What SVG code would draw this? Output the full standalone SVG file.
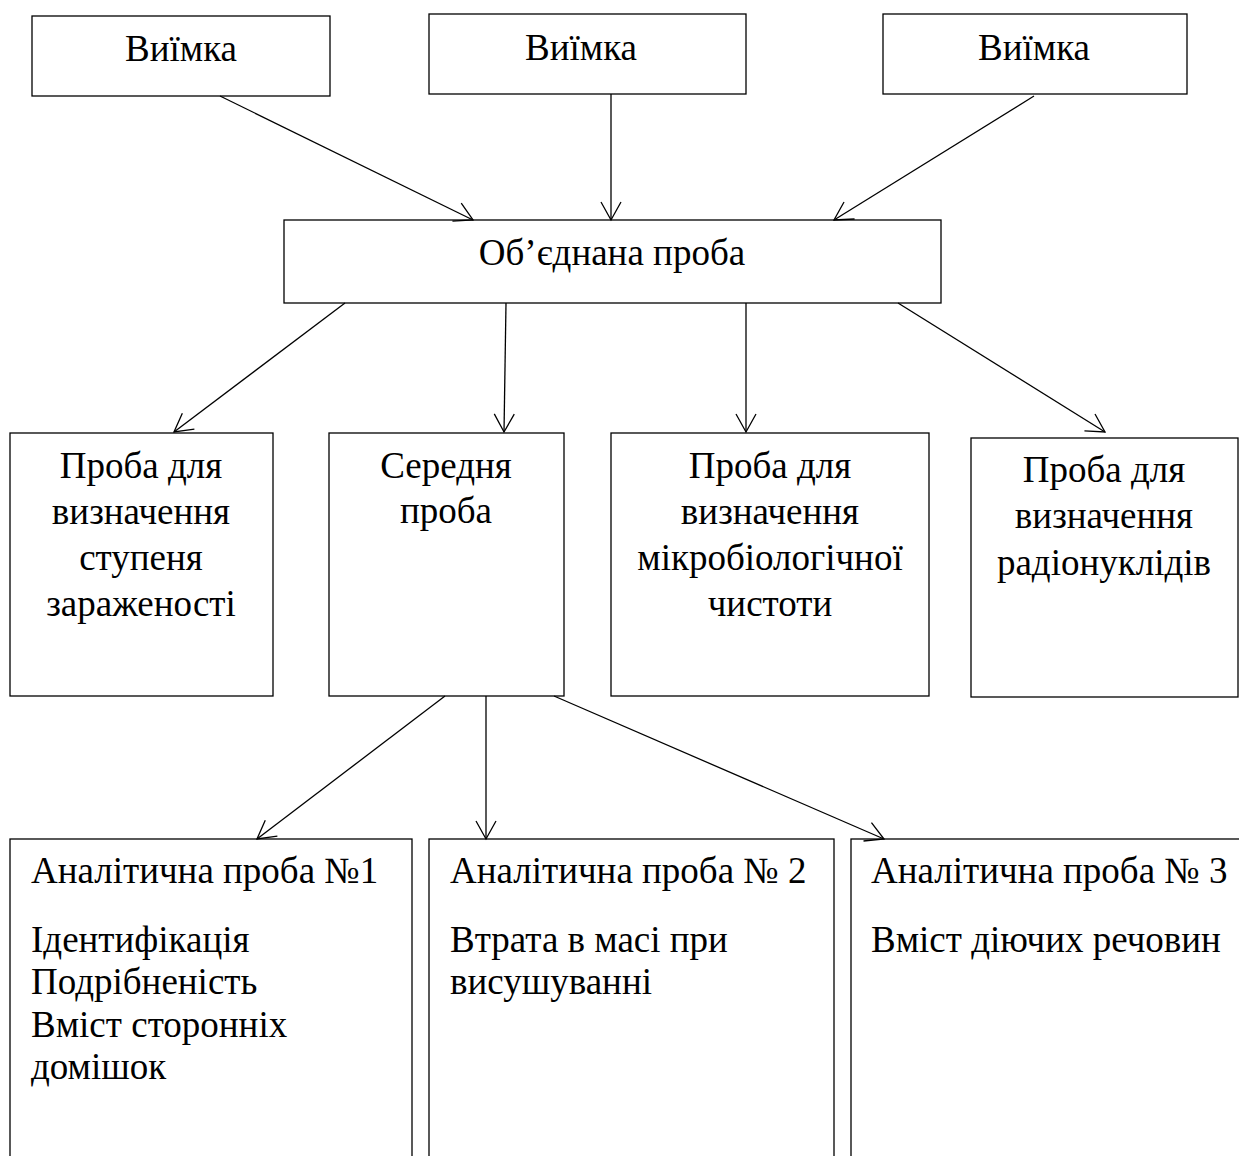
<svg xmlns="http://www.w3.org/2000/svg" width="1239" height="1156" viewBox="0 0 1239 1156">
<style>
.box{fill:#fff;stroke:#000;stroke-width:1.3}
.t{font-family:"Liberation Serif","Times New Roman",serif;font-size:37px;fill:#000}
.c{text-anchor:middle}
.conn line{stroke:#000;stroke-width:1.3;marker-end:url(#ah)}
</style>
<defs>
<marker id="ah" markerUnits="userSpaceOnUse" markerWidth="24" markerHeight="24" viewBox="-20 -12 22 24" refX="0" refY="0" orient="auto">
<path d="M-18,-10 L0,0 L-18,10" fill="none" stroke="#000" stroke-width="1.3"/>
</marker>
</defs>
<rect width="1239" height="1156" fill="#fff"/>
<g id="n-viimka1"><rect class="box" x="32" y="16" width="298" height="80"/><text class="t c" x="181" y="61">Виїмка</text></g>
<g id="n-viimka2"><rect class="box" x="429" y="14" width="317" height="80"/><text class="t c" x="581" y="60">Виїмка</text></g>
<g id="n-viimka3"><rect class="box" x="883" y="14" width="304" height="80"/><text class="t c" x="1034" y="60">Виїмка</text></g>
<g id="n-obiednana"><rect class="box" x="284" y="220" width="657" height="83"/><text class="t c" x="612" y="265">Об’єднана проба</text></g>
<g id="n-zarazh"><rect class="box" x="10" y="433" width="263" height="263"/>
<text class="t c" x="141" y="478">Проба для</text><text class="t c" x="141" y="524">визначення</text><text class="t c" x="141" y="570">ступеня</text><text class="t c" x="141" y="616">зараженості</text></g>
<g id="n-serednia"><rect class="box" x="329" y="433" width="235" height="263"/>
<text class="t c" x="446" y="478">Середня</text><text class="t c" x="446" y="523">проба</text></g>
<g id="n-mikrob"><rect class="box" x="611" y="433" width="318" height="263"/>
<text class="t c" x="770" y="478">Проба для</text><text class="t c" x="770" y="524">визначення</text><text class="t c" x="770" y="570">мікробіологічної</text><text class="t c" x="770" y="616">чистоти</text></g>
<g id="n-radio"><rect class="box" x="971" y="438" width="267" height="259"/>
<text class="t c" x="1104" y="482">Проба для</text><text class="t c" x="1104" y="528">визначення</text><text class="t c" x="1104" y="575">радіонуклідів</text></g>
<g id="n-an1"><rect class="box" x="10" y="839" width="402" height="340"/>
<text class="t" x="31" y="883">Аналітична проба №1</text>
<text class="t" x="31" y="952">Ідентифікація</text><text class="t" x="31" y="994">Подрібненість</text><text class="t" x="31" y="1037">Вміст сторонніх</text><text class="t" x="31" y="1079">домішок</text></g>
<g id="n-an2"><rect class="box" x="429" y="839" width="405" height="340"/>
<text class="t" x="450" y="883">Аналітична проба № 2</text>
<text class="t" x="450" y="952">Втрата в масі при</text><text class="t" x="450" y="994">висушуванні</text></g>
<g id="n-an3"><rect class="box" x="851" y="839" width="420" height="340"/>
<text class="t" x="871" y="883">Аналітична проба № 3</text>
<text class="t" x="871" y="952">Вміст діючих речовин</text></g>
<g id="connectors" class="conn">
<line x1="220" y1="96" x2="473" y2="220"/>
<line x1="611" y1="94" x2="611" y2="220"/>
<line x1="1034" y1="96" x2="834" y2="220"/>
<line x1="345" y1="303" x2="174" y2="432"/>
<line x1="506" y1="303" x2="504" y2="432"/>
<line x1="746" y1="303" x2="746" y2="432"/>
<line x1="898" y1="303" x2="1105" y2="432"/>
<line x1="445" y1="696" x2="257" y2="839"/>
<line x1="486" y1="696" x2="486" y2="839"/>
<line x1="554" y1="696" x2="884" y2="839"/>
</g>
</svg>
